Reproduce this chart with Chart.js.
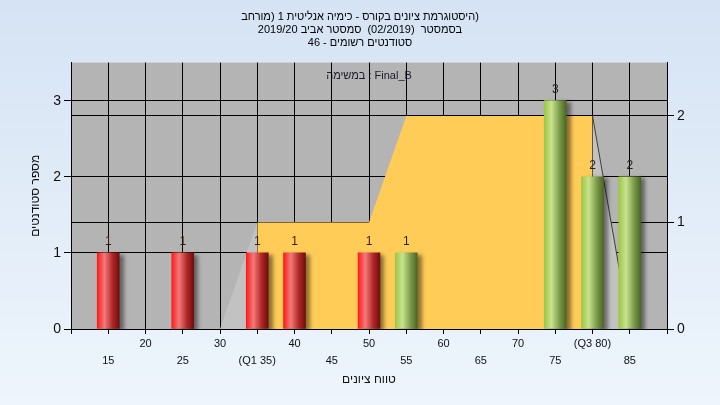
<!DOCTYPE html>
<html lang="he">
<head>
    <meta charset="UTF-8">
    <title>היסטוגרמת ציונים</title>
    <script src="https://cdn.jsdelivr.net/npm/chart.js"></script>
    <style>
        body { margin: 0; background: #E4EEF9; }
        canvas { display: block; }
    </style>
</head>
<body>
    <canvas id="histChart" width="720" height="405"></canvas>

    <script>
        // כותרות (הסוגר האחרון מבודד כדי לשמור על סדר התצוגה של המקור)
        const titleLines = [
            'היסטוגרמת ציונים בקורס - כימיה אנליטית 1 (מורחב\u2066)\u2069',
            'בסמסטר  (02/2019)  סמסטר אביב 2019/20',
            'סטודנטים רשומים - 46'
        ];
        const taskLabel = 'במשימה : Final_B';
        const xTitle = 'טווח ציונים';
        const yTitle = 'מספר סטודנטים';

        // עמודות - נכשלים (אדום) ועוברים (ירוק)
        const failScores = [15, 25, 35, 40, 50];
        const failCounts = [1, 1, 1, 1, 1];
        const passScores = [55, 75, 80, 85];
        const passCounts = [1, 3, 2, 2];

        // רבעונים ושטח הרקע (ציר ימני)
        const q1 = 35;
        const q3 = 80;
        const areaX = [30, 35, 50, 55, 80, 85];
        const areaY = [0, 1, 1, 2, 2, 0];
        const tickNames = { 35: '(Q1 35)', 80: '(Q3 80)' };

        const FONT = "'Liberation Sans', 'DejaVu Sans', Arial, sans-serif";

        function toPoints(xs, ys) {
            return xs.map((x, i) => ({ x: x, y: ys[i] }));
        }

        // גרדיאנט "גליל" לכל עמודה
        function cylinder(stops) {
            return (c) => {
                const chart = c.chart;
                if (!chart.chartArea || c.type !== 'data') return stops[1][1];
                const cx = chart.scales.x.getPixelForValue(c.raw.x);
                const g = chart.ctx.createLinearGradient(cx - 11, 0, cx + 11, 0);
                stops.forEach(([o, col]) => g.addColorStop(o, col));
                return g;
            };
        }
        const redStops = [[0, '#FF1A1A'], [0.33, '#F27A7A'], [0.7, '#B02626'], [1, '#6E0E0E']];
        const greenStops = [[0, '#9CC845'], [0.33, '#C8E28E'], [0.7, '#7A9A48'], [1, '#4A6626']];

        const backdrop = {
            id: 'backdrop',
            beforeDraw(chart) {
                const { ctx, width, height, chartArea: a } = chart;
                ctx.save();
                const g = ctx.createLinearGradient(0, 0, 0, height);
                g.addColorStop(0, '#D5E3F4');
                g.addColorStop(1, '#EEF5FC');
                ctx.fillStyle = g;
                ctx.fillRect(0, 0, width, height);
                ctx.fillStyle = '#B4B4B4';
                ctx.fillRect(a.left, a.top, a.right - a.left, a.bottom - a.top);
                ctx.fillStyle = '#1A1A2A';
                ctx.font = '11px ' + FONT;
                ctx.textAlign = 'center';
                ctx.textBaseline = 'middle';
                ctx.fillText(taskLabel, (a.left + a.right) / 2, a.top + 13);
                ctx.restore();
            }
        };

        const barShadow = {
            id: 'barShadow',
            beforeDatasetDraw(chart, args) {
                if (args.meta.type !== 'bar') return;
                const ctx = chart.ctx;
                ctx.save();
                ctx.shadowColor = 'rgba(0,0,0,0.45)';
                ctx.shadowBlur = 4;
                ctx.shadowOffsetX = 4;
                ctx.shadowOffsetY = 2;
            },
            afterDatasetDraw(chart, args) {
                if (args.meta.type !== 'bar') return;
                chart.ctx.restore();
            }
        };

        const valueLabels = {
            id: 'valueLabels',
            afterDatasetsDraw(chart) {
                const ctx = chart.ctx;
                ctx.save();
                ctx.font = '12px ' + FONT;
                ctx.textAlign = 'center';
                ctx.textBaseline = 'middle';
                chart.data.datasets.forEach((ds, i) => {
                    const meta = chart.getDatasetMeta(i);
                    if (meta.type !== 'bar') return;
                    ctx.fillStyle = ds.labelColor;
                    meta.data.forEach((bar, j) => {
                        ctx.fillText(String(ds.data[j].y), bar.x, bar.y - 11);
                    });
                });
                ctx.restore();
            }
        };

        const ctx = document.getElementById('histChart').getContext('2d');
        const histChart = new Chart(ctx, {
            type: 'bar',
            data: {
                datasets: [
                    {
                        label: 'נכשלים',
                        data: toPoints(failScores, failCounts),
                        backgroundColor: cylinder(redStops),
                        barThickness: 22,
                        grouped: false,
                        yAxisID: 'y',
                        order: 1,
                        labelColor: '#3A1A14'
                    },
                    {
                        label: 'עוברים',
                        data: toPoints(passScores, passCounts),
                        backgroundColor: cylinder(greenStops),
                        barThickness: 22,
                        grouped: false,
                        yAxisID: 'y',
                        order: 1,
                        labelColor: '#1E2418'
                    },
                    {
                        type: 'line',
                        label: 'טווח',
                        data: toPoints(areaX, areaY),
                        yAxisID: 'y1',
                        fill: 'origin',
                        pointRadius: 0,
                        borderWidth: 1,
                        tension: 0,
                        order: 5,
                        backgroundColor: '#FFCC57',
                        segment: {
                            backgroundColor: c => (c.p0.parsed.x < q1 || c.p0.parsed.x >= q3) ? '#C2C2C2' : '#FFCC57',
                            borderColor: c => c.p0.parsed.x >= q3 ? '#3C3C3C' : 'rgba(0,0,0,0)'
                        }
                    }
                ]
            },
            options: {
                responsive: false,
                animation: false,
                layout: { padding: 0 },
                plugins: {
                    legend: { display: false },
                    tooltip: { enabled: false },
                    title: {
                        display: true,
                        text: titleLines,
                        color: '#000',
                        font: { family: FONT, size: 11, weight: 'normal', lineHeight: 1.2 },
                        padding: { top: 10, bottom: 13 }
                    }
                },
                scales: {
                    x: {
                        type: 'linear',
                        min: 10,
                        max: 90,
                        offset: false,
                        afterFit: s => { s.height = 76; },
                        grid: { color: '#000', offset: false, tickLength: 5 },
                        border: { color: '#000' },
                        ticks: {
                            stepSize: 5,
                            autoSkip: false,
                            maxRotation: 0,
                            padding: 1,
                            color: '#111',
                            font: { family: FONT, size: 11, lineHeight: 1.6 },
                            callback: (v) => {
                                if (v <= 10 || v >= 90) return '';
                                const t = tickNames[v] || String(v);
                                return v % 10 === 0 ? [t, ''] : ['', t];
                            }
                        },
                        title: {
                            display: true,
                            text: xTitle,
                            color: '#111',
                            font: { family: FONT, size: 12, lineHeight: 1.2 },
                            padding: { top: 0, bottom: 18 }
                        }
                    },
                    y: {
                        position: 'left',
                        min: 0,
                        max: 3.5,
                        afterFit: s => { s.width = 71; },
                        grid: { color: '#000', tickLength: 7 },
                        border: { color: '#000' },
                        ticks: {
                            stepSize: 1,
                            includeBounds: false,
                            padding: 3,
                            color: '#111',
                            font: { family: FONT, size: 14 }
                        },
                        title: {
                            display: true,
                            text: yTitle,
                            color: '#111',
                            font: { family: FONT, size: 12, lineHeight: 1.2 },
                            padding: { top: 28, bottom: 0 }
                        }
                    },
                    y1: {
                        position: 'right',
                        min: 0,
                        max: 2.5,
                        afterFit: s => { s.width = 53; },
                        grid: { color: '#000', tickLength: 7, drawOnChartArea: true },
                        border: { color: '#000' },
                        ticks: {
                            stepSize: 1,
                            includeBounds: false,
                            padding: 3,
                            color: '#111',
                            font: { family: FONT, size: 14 }
                        }
                    }
                }
            },
            plugins: [backdrop, barShadow, valueLabels]
        });
    </script>
</body>
</html>
